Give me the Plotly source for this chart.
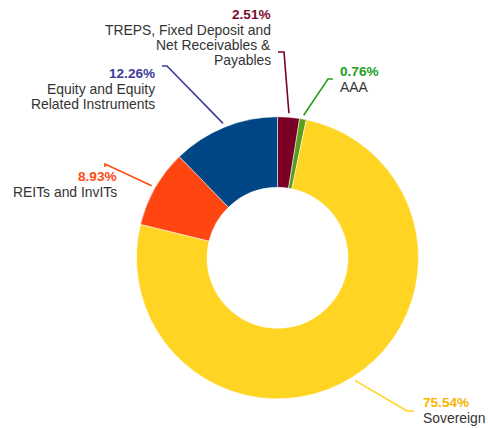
import math
import plotly.graph_objects as go

# data
labels = ['TREPS, Fixed Deposit and<br>Net Receivables &<br>Payables', 'AAA', 'Sovereign',
          'REITs and InvITs', 'Equity and Equity<br>Related Instruments']
values = [2.51, 0.76, 75.54, 8.93, 12.26]
slice_colors = ['#7b0028', '#5b9d1c', '#ffd422', '#ff4510', '#004685']
text_colors = ['#7b0a30', '#22a01e', '#f7b500', '#ff4a12', '#3c3c9a']
line_colors = ['#7b0028', '#22a01e', '#ffd422', '#ff4a12', '#3c3c9a']

W, H = 488, 428
CX, CY, R = 277.5, 257.8, 141

# label layout in pixels: anchor x, first baseline y, side, elbow, hook end
label_pos = [
    dict(x=273, y=19, side='right', elbow=(284, 52), end=(278, 52)),
    dict(x=338, y=76, side='left', elbow=(328, 79), end=(333, 79)),
    dict(x=421, y=407, side='left', elbow=(407, 411), end=(414, 411)),
    dict(x=119, y=181, side='right', elbow=(105, 164), end=(105, 167)),
    dict(x=157, y=78, side='right', elbow=(167, 66), end=(162, 66)),
]


def px(x):
    return x / W


def py(y):
    return 1 - y / H


fig = go.Figure(go.Pie(
    labels=[l.replace('<br>', ' ') for l in labels],
    values=values,
    sort=False,
    direction='clockwise',
    hole=0.5,
    marker=dict(colors=slice_colors, line=dict(color='white', width=0.5)),
    textinfo='none',
    hoverinfo='label+percent',
    domain=dict(x=[px(CX - R), px(CX + R)], y=[py(CY + R), py(CY - R)]),
))

annotations = []
shapes = []
total = sum(values)
cum = 0
for lab, val, tcol, lcol, pos in zip(labels, values, text_colors, line_colors, label_pos):
    mid = (cum + val / 2) / total * 2 * math.pi
    cum += val
    sx = CX + (R + 4) * math.sin(mid)
    sy = CY - (R + 4) * math.cos(mid)
    ex, ey = pos['elbow']
    hx, hy = pos['end']
    shapes.append(dict(
        type='path', xref='paper', yref='paper',
        path=f'M {px(sx)},{py(sy)} L {px(ex)},{py(ey)} L {px(hx)},{py(hy)}',
        line=dict(color=lcol, width=1.6),
    ))
    anchor = 'right' if pos['side'] == 'right' else 'left'
    annotations.append(dict(
        x=px(pos['x']), y=py(pos['y'] - 4.5), xref='paper', yref='paper',
        text=f'<b>{val:.2f}%</b>', showarrow=False, xanchor=anchor, yanchor='middle',
        font=dict(size=13.6, color=tcol, family='Liberation Sans, Arial'),
    ))
    for i, line in enumerate(lab.split('<br>')):
        by = pos['y'] + 16 + 15 * i
        annotations.append(dict(
            x=px(pos['x']), y=py(by - 5), xref='paper', yref='paper',
            text=line, showarrow=False, xanchor=anchor, yanchor='middle',
            font=dict(size=13.9, color='#333333', family='Liberation Sans, Arial'),
        ))

fig.update_layout(
    width=W, height=H,
    margin=dict(l=0, r=0, t=0, b=0),
    paper_bgcolor='white',
    plot_bgcolor='white',
    showlegend=False,
    annotations=annotations,
    shapes=shapes,
)

# drop the default page margin so the chart sits at the window corner
fig.write_html('out.html', config={'displayModeBar': False},
               post_script="document.body.style.margin='0';")
